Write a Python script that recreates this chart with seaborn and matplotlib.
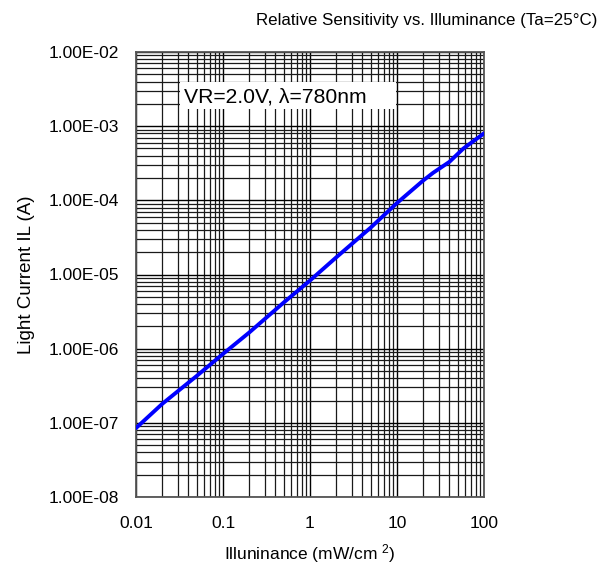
import matplotlib
matplotlib.use("Agg")
import matplotlib.pyplot as plt
import matplotlib.ticker as mticker
from matplotlib.patches import Rectangle
import numpy as np
import pandas as pd
import seaborn as sns

illuminance = [0.01, 0.02, 0.05, 0.1, 0.2, 0.5, 1, 2, 5, 10, 20, 26, 40, 58, 100]
light_current = [8.5e-8, 1.8e-7, 4.3e-7, 8.5e-7, 1.65e-6, 4.2e-6, 8.3e-6,
                 1.7e-5, 4.3e-5, 9.2e-5, 1.85e-4, 2.35e-4, 3.3e-4, 5.0e-4, 8.0e-4]
x_ticks = [0.01, 0.1, 1, 10, 100]
x_tick_labels = ["0.01", "0.1", "1", "10", "100"]
y_ticks = [1e-8, 1e-7, 1e-6, 1e-5, 1e-4, 1e-3, 1e-2]
y_tick_labels = ["1.00E-08", "1.00E-07", "1.00E-06", "1.00E-05",
                 "1.00E-04", "1.00E-03", "1.00E-02"]

sns.set_style("white")
plt.rcParams["font.family"] = ["Liberation Sans", "DejaVu Sans"]
plt.rcParams["mathtext.fontset"] = "custom"
plt.rcParams["mathtext.rm"] = "Liberation Sans"
plt.rcParams["mathtext.it"] = "Liberation Sans"
plt.rcParams["text.color"] = "black"
plt.rcParams["axes.labelcolor"] = "black"

df = pd.DataFrame({"x": illuminance, "y": light_current})

fig = plt.figure(figsize=(6, 5.67), dpi=100)
ax = fig.add_axes([136/600, 1-497/567, (484-136)/600, (497-52)/567])
ax.set_xscale("log")
ax.set_yscale("log")
ax.set_xlim(0.01, 100)
ax.set_ylim(1e-8, 1e-2)

ax.xaxis.set_major_locator(mticker.FixedLocator(x_ticks))
ax.yaxis.set_major_locator(mticker.FixedLocator(y_ticks))
ax.xaxis.set_minor_locator(mticker.LogLocator(base=10, subs=np.arange(2, 10)))
ax.yaxis.set_minor_locator(mticker.LogLocator(base=10, subs=np.arange(2, 10)))
ax.xaxis.set_minor_formatter(mticker.NullFormatter())
ax.yaxis.set_minor_formatter(mticker.NullFormatter())
ax.set_xticklabels(x_tick_labels)
ax.set_yticklabels(y_tick_labels)

ax.grid(True, which="major", color="black", linewidth=1.0)
ax.grid(True, which="minor", color="#1a1a1a", linewidth=0.9)
ax.set_axisbelow(True)

sns.lineplot(data=df, x="x", y="y", ax=ax, color="#0000FF", linewidth=2.8, zorder=3)

ax.tick_params(axis="both", which="both", length=0, labelsize=12.5,
               colors="black", labelcolor="black")
ax.tick_params(axis="x", pad=14)
ax.tick_params(axis="y", pad=12)
for s in ax.spines.values():
    s.set_visible(True)
    s.set_color("#555555")
    s.set_linewidth(1.3)

ax.set_xlabel("Illuninance (mW/cm $^{2}$)", fontsize=12.5, labelpad=8)
ax.set_ylabel("Light Current IL (A)", fontsize=13.5, labelpad=10)

fig.text(597/600, 1-20/567, "Relative Sensitivity vs. Illuminance (Ta=25\u00b0C)",
         ha="right", va="center", fontsize=12.2)

ax.add_patch(Rectangle((0.126, 0.872), 0.621, 0.061, transform=ax.transAxes,
                       facecolor="white", edgecolor="none", zorder=4))
ax.text(0.138, 0.8995, "VR=2.0V, \u03bb=780nm", transform=ax.transAxes,
        ha="left", va="center", fontsize=15.2, zorder=5)

fig.savefig("out.png", dpi=100)
